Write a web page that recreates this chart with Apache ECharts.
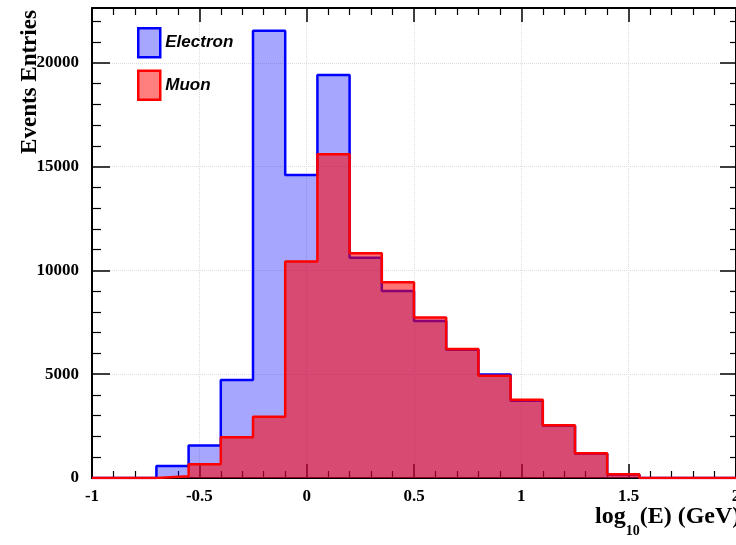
<!DOCTYPE html>
<html>
<head>
<meta charset="utf-8">
<script src="https://cdn.jsdelivr.net/npm/echarts@6/dist/echarts.min.js"></script>
<style>
html,body{margin:0;padding:0;background:#fff;}
#main{width:736px;height:545px;}
</style>
</head>
<body>
<div id="main"></div>
<script>
// Bin left edges (width 0.15), last entry closes the histogram range
const binEdges = [-1, -0.85, -0.7, -0.55, -0.4, -0.25, -0.1, 0.05, 0.2, 0.35, 0.5, 0.65, 0.8, 0.95, 1.1, 1.25, 1.4, 1.55, 1.7, 1.85, 2.0];
const electron = [0, 0, 580, 1570, 4720, 21550, 14600, 19420, 10620, 9010, 7570, 6180, 4990, 3720, 2520, 1170, 160, 0, 0, 0];
const muon     = [0, 0, 90, 660, 1960, 2950, 10430, 15600, 10830, 9430, 7730, 6220, 4930, 3770, 2540, 1190, 178, 0, 0, 0];
const xTicks = [-1, -0.5, 0, 0.5, 1, 1.5, 2];
const yTicks = [0, 5000, 10000, 15000, 20000];
const seriesNames = ['Electron', 'Muon'];

function stepData(vals) {
  const d = vals.map((v, i) => [binEdges[i], v]);
  d.push([binEdges[binEdges.length - 1], vals[vals.length - 1]]);
  return d;
}

const serif = 'Liberation Serif';
const blueFill = 'rgba(0,0,255,0.35)';
const redFill = 'rgba(255,0,0,0.55)';
const chart = echarts.init(document.getElementById('main'), null, {renderer: 'canvas'});

const xBase = {
  type: 'value', min: -1, max: 2, interval: 0.5,
  axisLine: {show: true, onZero: false, lineStyle: {color: '#000', width: 2}},
  axisTick: {show: true, inside: true, length: 14, lineStyle: {color: '#000', width: 1.5}},
  minorTick: {show: true, splitNumber: 5, length: 7, lineStyle: {color: '#000', width: 1.2}},
};
const yBase = {
  type: 'value', min: 0, max: 22650, interval: 5000,
  axisLine: {show: true, onZero: false, lineStyle: {color: '#000', width: 2}},
  axisTick: {show: true, inside: true, length: 18, lineStyle: {color: '#000', width: 1.5}},
  minorTick: {show: true, splitNumber: 5, length: 9, lineStyle: {color: '#000', width: 1.2}},
};

chart.setOption({
  animation: false,
  backgroundColor: '#fff',
  grid: {left: 92, right: 0, top: 8, bottom: 67, containLabel: false, outerBoundsMode: 'none'},
  xAxis: [
    Object.assign({}, xBase, {
      position: 'bottom',
      splitLine: {show: true, lineStyle: {color: '#dcdcdc', type: 'dotted', width: 1}},
      axisLabel: {show: true, margin: 10, fontFamily: serif, fontWeight: 'bold', fontSize: 17, color: '#000',
        hideOverlap: false,
        formatter: v => (xTicks.indexOf(v) >= 0 ? String(v) : '')}
    }),
    Object.assign({}, xBase, {
      position: 'top', splitLine: {show: false}, axisLabel: {show: false}
    })
  ],
  yAxis: [
    Object.assign({}, yBase, {
      position: 'left',
      splitLine: {show: true, lineStyle: {color: '#dcdcdc', type: 'dotted', width: 1}},
      axisLabel: {show: true, margin: 13, fontFamily: serif, fontWeight: 'bold', fontSize: 17, color: '#000',
        showMaxLabel: false,
        formatter: v => (yTicks.indexOf(v) >= 0 ? String(v) : '')}
    }),
    Object.assign({}, yBase, {
      position: 'right', splitLine: {show: false}, axisLabel: {show: false},
      axisTick: {show: true, inside: true, length: 16, lineStyle: {color: '#000', width: 1.5}},
      minorTick: {show: true, splitNumber: 5, length: 6, lineStyle: {color: '#000', width: 1.2}}
    })
  ],
  legend: {
    orient: 'vertical', left: 137, top: 27, padding: 0, itemWidth: 22, itemHeight: 29, itemGap: 11,
    textStyle: {fontFamily: 'Liberation Sans', fontStyle: 'italic', fontWeight: 'bold', fontSize: 17, color: '#000'},
    data: [
      {name: seriesNames[0], icon: 'rect', itemStyle: {color: blueFill, borderColor: '#0000ff', borderWidth: 2.5}},
      {name: seriesNames[1], icon: 'rect', itemStyle: {color: 'rgba(255,0,0,0.5)', borderColor: '#ff0000', borderWidth: 2.5}}
    ]
  },
  series: [
    {
      name: seriesNames[0], type: 'line', step: 'end', symbol: 'none', z: 2,
      xAxisIndex: 0, yAxisIndex: 0,
      data: stepData(electron),
      lineStyle: {color: '#0000ff', width: 2.5},
      itemStyle: {color: '#0000ff'},
      areaStyle: {color: blueFill, opacity: 1, origin: 'start'}
    },
    {
      name: seriesNames[1], type: 'line', step: 'end', symbol: 'none', z: 3,
      xAxisIndex: 0, yAxisIndex: 0,
      data: stepData(muon),
      lineStyle: {color: '#ff0000', width: 2.5},
      itemStyle: {color: '#ff0000'},
      areaStyle: {color: redFill, opacity: 1, origin: 'start'}
    }
  ],
  graphic: [
    {
      type: 'text', x: 30, y: 82, rotation: Math.PI / 2,
      style: {text: 'Events Entries', fontFamily: serif, fontWeight: 'bold', fontSize: 23, fill: '#000',
        align: 'center', verticalAlign: 'middle'}
    },
    {
      type: 'text', x: 595, y: 529,
      style: {
        text: '{a|log}{s|10}{a|(E) (GeV)}',
        verticalAlign: 'bottom',
        rich: {
          a: {fontFamily: serif, fontWeight: 'bold', fontSize: 24, fill: '#000', verticalAlign: 'bottom', lineHeight: 24},
          s: {fontFamily: serif, fontWeight: 'bold', fontSize: 14, fill: '#000', verticalAlign: 'bottom', lineHeight: 14, padding: [0, 0, -9, 0]}
        }
      }
    }
  ]
});
</script>
</body>
</html>
